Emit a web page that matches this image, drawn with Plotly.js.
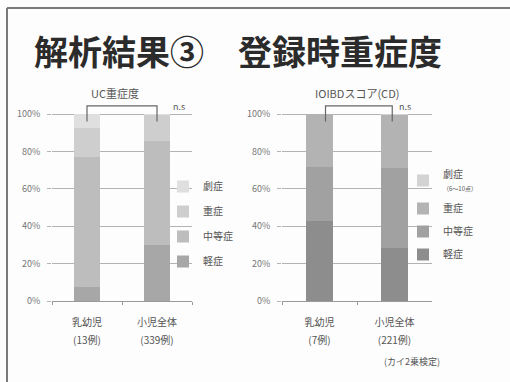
<!DOCTYPE html>
<html><head><meta charset="utf-8">
<script src="https://cdn.plot.ly/plotly-3.0.1.min.js"></script>
<style>html,body{margin:0;padding:0;background:#fff}</style>
</head><body><div id="chart" style="width:510px;height:382px"></div>
<script>
// ---- data ----
const groups = ['乳幼児', '小児全体'];
const ucTickLabels = ['乳幼児<br>(13例)', '小児全体<br>(339例)'];
const cdTickLabels = ['乳幼児<br>(7例)', '小児全体<br>(221例)'];
const severityNames = ['軽症', '中等症', '重症', '劇症'];
const ucMild = [7.7, 30.1];
const ucModerate = [69.2, 55.2];
const ucSevere = [15.4, 14.2];
const ucFulminant = [7.7, 0.5];
const cdMild = [42.9, 28.1];
const cdModerate = [28.5, 43.0];
const cdSevere = [28.6, 28.5];
const cdFulminant = [0, 0.4];
const yTicks = [0, 20, 40, 60, 80, 100];
const yTickLabels = ['0%', '20%', '40%', '60%', '80%', '100%'];

// ---- styling ----
const W = 510, H = 382;
const px = x => x / W;
const py = y => 1 - y / H;
const FONT = '"Noto Sans CJK JP", "Noto Sans", sans-serif';
const ucColors = ['#a7a7a7', '#bdbdbd', '#cecece', '#dfdfdf'];
const cdColors = ['#8d8d8d', '#a1a1a1', '#b3b3b3', '#d3d3d3'];
const ucSeries = [ucMild, ucModerate, ucSevere, ucFulminant];
const cdSeries = [cdMild, cdModerate, cdSevere, cdFulminant];
const cdLegendNames = ['軽症', '中等症', '重症', '劇症<br><span style="font-size:6px">（6～10点）</span>'];

const traces = [];
ucSeries.forEach((vals, i) => {
  traces.push({
    type: 'bar', x: groups, y: vals, name: severityNames[i],
    marker: {color: ucColors[i], line: {width: 0}}, width: 0.37,
    xaxis: 'x', yaxis: 'y', legend: 'legend', legendgroup: 'uc' + i, legendrank: 10 - i,
    hoverinfo: 'skip'
  });
});
cdSeries.forEach((vals, i) => {
  traces.push({
    type: 'bar', x: groups, y: vals, name: cdLegendNames[i],
    marker: {color: cdColors[i], line: {width: 0}}, width: 0.37,
    xaxis: 'x2', yaxis: 'y2', legend: 'legend2', legendgroup: 'cd' + i, legendrank: 10 - i,
    hoverinfo: 'skip'
  });
});

const yBottomPx = 301, ySpanPx = 187;
const yTop = 106;
const yDomain = [py(yBottomPx), py(yBottomPx - ySpanPx * yTop / 100)];

const xAxisBase = (ticktext, domain) => ({
  domain: domain, type: 'category', range: [-0.5, 1.5],
  tickmode: 'array', tickvals: groups,
  ticktext: ticktext.map(t => t.split('<br>').map(s => '<span style="font-size:10px">' + s + '</span>').join('<br>')),
  showline: true, linecolor: '#9a9a9a', linewidth: 1,
  ticks: 'outside', tickson: 'boundaries', ticklen: 3, tickcolor: '#9a9a9a',
  ticklabelstandoff: 7,
  tickfont: {family: FONT, size: 14, color: '#555'},
  showgrid: false, zeroline: false, fixedrange: true
});
const yAxisBase = (anchor) => ({
  domain: yDomain, range: [0, yTop], anchor: anchor,
  tickmode: 'array', tickvals: yTicks, ticktext: yTickLabels,
  showgrid: true, gridcolor: '#b3b3b3', gridwidth: 1,
  ticks: 'outside', ticklen: 4, tickcolor: '#b3b3b3',
  ticklabelstandoff: 5,
  tickfont: {family: FONT, size: 9, color: '#777'},
  showline: false, zeroline: false, fixedrange: true
});

const legendBase = (x, y, gap) => ({
  x: x, y: y, xanchor: 'left', yanchor: 'top',
  bgcolor: 'rgba(0,0,0,0)', borderwidth: 0,
  traceorder: 'grouped', tracegroupgap: gap,
  font: {family: FONT, size: 10, color: '#555'},
  itemwidth: 30, itemclick: false, itemdoubleclick: false
});

const layout = {
  width: W, height: H,
  margin: {l: 0, r: 0, t: 0, b: 0},
  paper_bgcolor: '#fdfdfd', plot_bgcolor: 'rgba(0,0,0,0)',
  barmode: 'stack', showlegend: true,
  font: {family: FONT},
  xaxis: Object.assign(xAxisBase(ucTickLabels, [px(52), px(192)]), {anchor: 'y'}),
  yaxis: yAxisBase('x'),
  xaxis2: Object.assign(xAxisBase(cdTickLabels, [px(282), px(432)]), {anchor: 'y2'}),
  yaxis2: yAxisBase('x2'),
  legend: legendBase(px(163), py(172), 6),
  legend2: legendBase(px(403), py(161), 4),
  shapes: [
    // slide frame
    {type: 'line', xref: 'paper', yref: 'paper', x0: px(7), x1: px(7), y0: py(8), y1: 0, line: {color: '#7a7a7a', width: 2}},
    {type: 'line', xref: 'paper', yref: 'paper', x0: px(7), x1: 1, y0: py(8), y1: py(8), line: {color: '#7a7a7a', width: 2}},
    // n.s. brackets
    {type: 'path', xref: 'x', yref: 'y', path: 'M 0,96 L 0,104.3 L 1,104.3 L 1,96', line: {color: '#666', width: 1.2}},
    {type: 'path', xref: 'x2', yref: 'y2', path: 'M 0.08,96 L 0.08,104.3 L 0.97,104.3 L 0.97,96', line: {color: '#666', width: 1.2}}
  ],
  annotations: [
    {text: '<b>解析結果③　登録時重症度</b>', xref: 'paper', yref: 'paper', x: px(32), y: py(51), xanchor: 'left', yanchor: 'middle', showarrow: false, font: {family: FONT, size: 34, color: '#2b2b2b'}},
    {text: 'UC重症度', xref: 'paper', yref: 'paper', x: px(115), y: py(93), xanchor: 'center', yanchor: 'middle', showarrow: false, font: {family: FONT, size: 11, color: '#555'}},
    {text: 'IOIBDスコア(CD)', xref: 'paper', yref: 'paper', x: px(357), y: py(93), xanchor: 'center', yanchor: 'middle', showarrow: false, font: {family: FONT, size: 11, color: '#555'}},
    {text: 'n.s', xref: 'paper', yref: 'paper', x: px(171), y: py(106), xanchor: 'left', yanchor: 'middle', showarrow: false, font: {family: FONT, size: 9, color: '#555'}},
    {text: 'n.s', xref: 'paper', yref: 'paper', x: px(397), y: py(106), xanchor: 'left', yanchor: 'middle', showarrow: false, font: {family: FONT, size: 9, color: '#555'}},
    {text: '(カイ2乗検定)', xref: 'paper', yref: 'paper', x: px(382), y: py(361), xanchor: 'left', yanchor: 'middle', showarrow: false, font: {family: FONT, size: 9, color: '#555'}}
  ]
};

Plotly.newPlot('chart', traces, layout, {staticPlot: true, displayModeBar: false});
</script>
</body></html>
